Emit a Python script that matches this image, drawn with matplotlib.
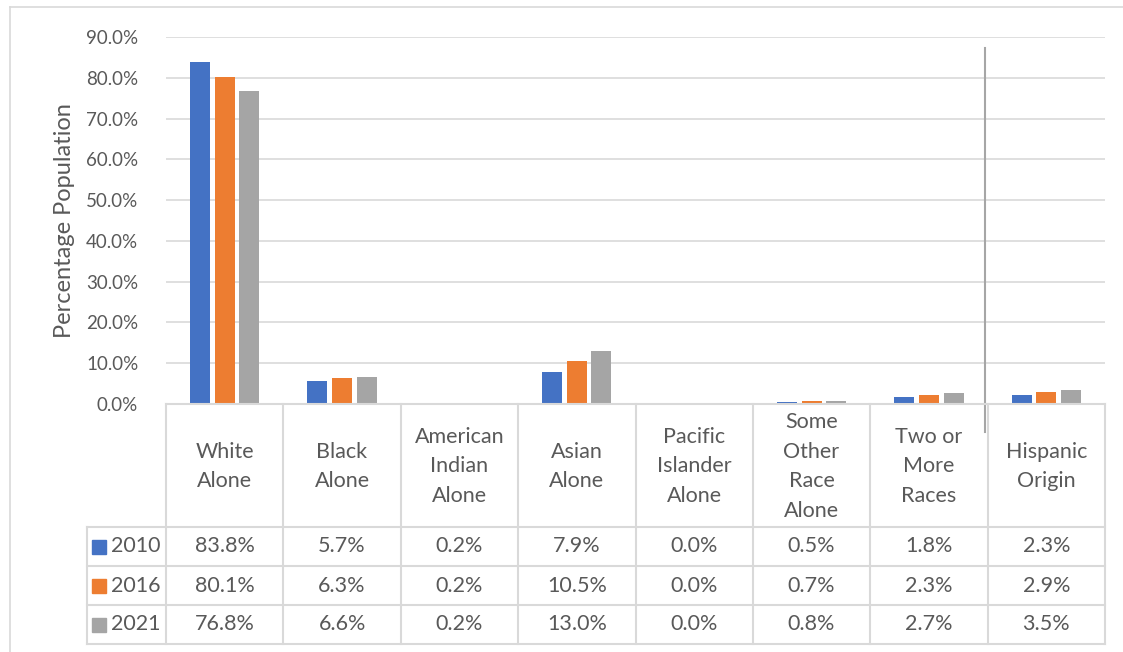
import matplotlib.pyplot as plt
from matplotlib.lines import Line2D
from matplotlib.patches import Rectangle
import numpy as np

plt.rcParams['font.family'] = ['Lato', 'DejaVu Sans']

categories = ["White\nAlone", "Black\nAlone", "American\nIndian\nAlone", "Asian\nAlone",
              "Pacific\nIslander\nAlone", "Some\nOther\nRace\nAlone", "Two or\nMore\nRaces",
              "Hispanic\nOrigin"]
years = ["2010", "2016", "2021"]
v2010 = [83.8, 5.7, 0.2, 7.9, 0.0, 0.5, 1.8, 2.3]
v2016 = [80.1, 6.3, 0.2, 10.5, 0.0, 0.7, 2.3, 2.9]
v2021 = [76.8, 6.6, 0.2, 13.0, 0.0, 0.8, 2.7, 3.5]
colors = ["#4472C4", "#ED7D31", "#A5A5A5"]

W, H = 1123, 652
txt = "#595959"
grid = "#d9d9d9"

fig = plt.figure(figsize=(W / 100, H / 100), dpi=100)

def fx(px):
    return px / W

def fy(py):
    return 1 - py / H

# outer chart border (left / top visible)
fig.add_artist(Line2D([fx(10), fx(10)], [fy(7), 0], transform=fig.transFigure, color=grid, lw=1.2))
fig.add_artist(Line2D([fx(10), 1], [fy(7), fy(7)], transform=fig.transFigure, color=grid, lw=1.2))

# bar chart
x0, x1, ytop, ybot = 166, 1105, 37, 404
ax = fig.add_axes([fx(x0), fy(ybot), fx(x1 - x0), (ybot - ytop) / H])
x = np.arange(len(categories))
bw = 0.17
step = 0.21
for i, vals in enumerate([v2010, v2016, v2021]):
    ax.bar(x + (i - 1) * step, vals, width=bw, color=colors[i], zorder=3)
ax.set_xlim(-0.5, len(categories) - 0.5)
ax.set_ylim(0, 90)
ax.set_yticks(np.arange(0, 91, 10))
ax.set_yticklabels([f"{t:.1f}%" for t in np.arange(0, 91, 10)], color=txt, fontsize=13.5)
ax.tick_params(axis='y', length=0, pad=20)
ax.set_xticks([])
ax.grid(axis='y', color=grid, lw=1.2, zorder=0)
for s in ax.spines.values():
    s.set_visible(False)
ax.set_ylabel("Percentage Population", color=txt, fontsize=17)
ax.yaxis.set_label_coords(-0.097, 0.5)
# separator before Hispanic Origin
ax.add_line(Line2D([6.48, 6.48], [(ybot - 48) / (ybot - ytop), -(432 - ybot) / (ybot - ytop)],
                   transform=ax.get_xaxis_transform(), color="#a6a6a6", lw=1.5, clip_on=False, zorder=5))

# data table below
tl, tb = 87, 644
tax = fig.add_axes([fx(tl), fy(tb), fx(x1 - tl), (tb - ybot) / H])
colw = (x1 - x0) / len(categories)
tax.set_xlim(-0.5 - (x0 - tl) / colw, len(categories) - 0.5)
tax.set_ylim(tb - ybot, 0)
tax.axis('off')
hdr = 123
rowh = (tb - ybot - hdr) / 3
lk = dict(color=grid, lw=1.5, clip_on=False)
xl = -0.5 - (x0 - tl) / colw
# horizontal lines
tax.plot([-0.5, len(categories) - 0.5], [0, 0], **lk)
for r in range(4):
    tax.plot([xl, len(categories) - 0.5], [hdr + r * rowh] * 2, **lk)
# vertical lines
tax.plot([xl, xl], [hdr, tb - ybot], **lk)
for c in range(len(categories) + 1):
    tax.plot([c - 0.5] * 2, [0, tb - ybot], **lk)

for c, name in enumerate(categories):
    tax.text(c, hdr / 2 + 1, name, ha='center', va='center', color=txt, fontsize=15.5, linespacing=1.6)
for r, (yr, vals) in enumerate(zip(years, [v2010, v2016, v2021])):
    yc = hdr + (r + 0.5) * rowh
    for c, v in enumerate(vals):
        tax.text(c, yc, f"{v:.1f}%", ha='center', va='center', color=txt, fontsize=15.5)
    sq = 14 / colw
    tax.add_patch(Rectangle((xl + 5 / colw, yc - 7), sq, 14, color=colors[r], clip_on=False))
    tax.text(xl + 24 / colw, yc, yr, ha='left', va='center', color=txt, fontsize=15.5)

fig.savefig("out.png", dpi=100)
